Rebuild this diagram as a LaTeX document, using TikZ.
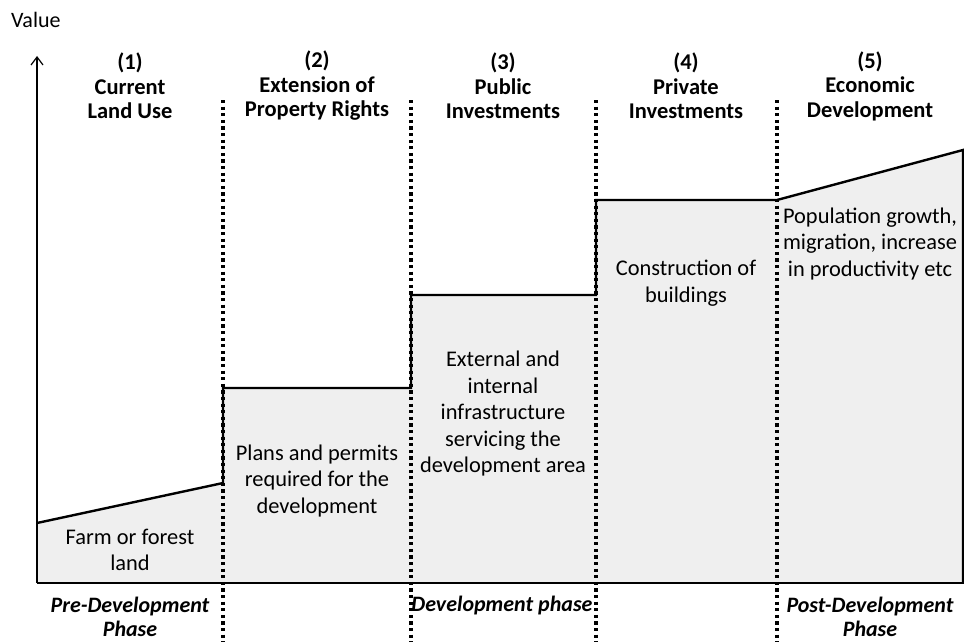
\documentclass[tikz,border=0pt]{standalone}
\usepackage{fontspec}
\setmainfont{Carlito}
\usetikzlibrary{arrows.meta}
\definecolor{fillgray}{HTML}{EFEFEF}
\tikzset{
  header/.style={font=\bfseries\fontsize{22.5}{24.5}\selectfont, align=center, inner sep=0pt},
  body/.style={font=\fontsize{22.4}{26.5}\selectfont, align=center, inner sep=0pt},
  phase/.style={font=\bfseries\itshape\fontsize{22}{24.5}\selectfont, align=center, inner sep=0pt},
  divider/.style={line width=3.2pt, dash pattern=on 3.2pt off 3.4pt},
  profile/.style={line width=2.4pt, line join=miter},
  axis/.style={line width=1.3pt}
}
\begin{document}
\begin{tikzpicture}[x=1pt,y=-1pt]
\useasboundingbox (0,0) rectangle (964,642);
% fill under profile
\fill[fillgray] (37,523) -- (223,483) -- (223,388) -- (411,388) -- (411,295) -- (596,295) -- (596,200) -- (777,200) -- (963,150) -- (963,583) -- (37,583) -- cycle;
% dividers
\coordinate (d1t) at (223,100); \coordinate (d1b) at (223,642);
\coordinate (d2t) at (411,100); \coordinate (d2b) at (411,642);
\coordinate (d3t) at (596,100); \coordinate (d3b) at (596,642);
\coordinate (d4t) at (777,100); \coordinate (d4b) at (777,642);
\draw[divider] (d1t) -- (d1b);
\draw[divider] (d2t) -- (d2b);
\draw[divider] (d3t) -- (d3b);
\draw[divider] (d4t) -- (d4b);
% profile
\coordinate (p0) at (37,523);
\draw[profile] (p0) -- (223,483) -- (223,388) -- (411,388) -- (411,295) -- (596,295) -- (596,200) -- (777,200) -- (963,150) -- (963,583);
% axes
\coordinate (origin) at (37,583);
\coordinate (ytop) at (37,56);
\coordinate (xend) at (964,583);
\draw[axis, -{Straight Barb[length=8pt,width=12pt,line width=1.2pt]}] (origin) -- (ytop);
\draw[axis] (origin) -- (xend);
\node[font=\fontsize{22}{24}\selectfont, anchor=west, inner sep=0pt] (value) at (11,20) {Value};
% headers
\node[header] (h1) at (130,86) {(1)\\Current\\Land Use};
\node[header] (h2) at (317,86) {(2)\\Extension of\\Property Rights};
\node[header] (h3) at (503,86) {(3)\\Public\\Investments};
\node[header] (h4) at (686,86) {(4)\\Private\\Investments};
\node[header] (h5) at (870,86) {(5)\\Economic\\Development};
% body texts
\node[body] (b1) at (130,550) {Farm or forest\\land};
\node[body] (b2) at (317,481) {Plans and permits\\required for the\\development};
\node[body] (b3) at (503,414) {External and\\internal\\infrastructure\\servicing the\\development area};
\node[body] (b4) at (686,283) {Construction of\\buildings};
\node[body] (b5) at (870,244) {Population growth,\\migration, increase\\in productivity etc};
% phases
\node[phase] (ph1) at (130,617) {Pre-Development\\Phase};
\node[phase] (ph2) at (502,606) {Development phase};
\node[phase] (ph3) at (870,617) {Post-Development\\Phase};
\end{tikzpicture}
\end{document}
